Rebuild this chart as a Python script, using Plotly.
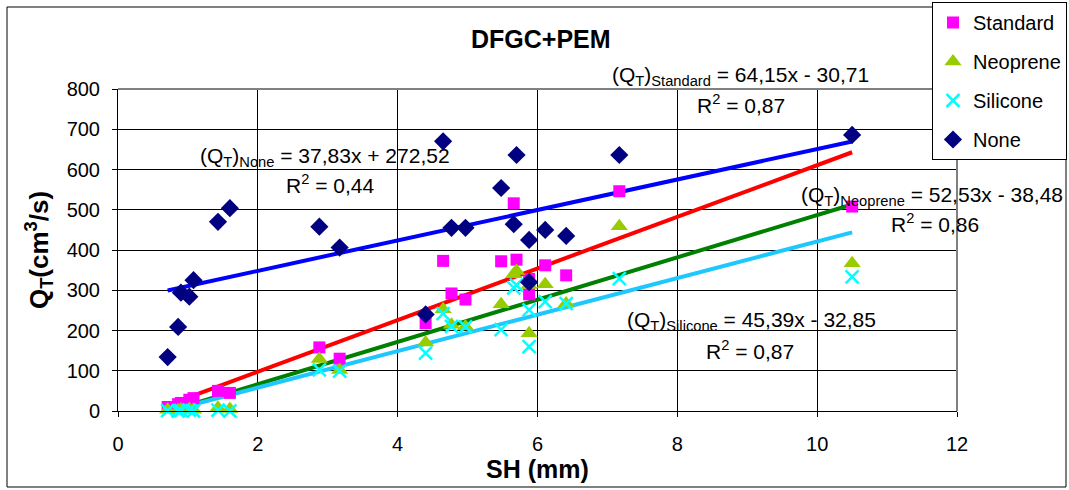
import plotly.graph_objects as go
import numpy as np

# ---- data ----
sh_mm = [0.71, 0.86, 0.90, 1.02, 1.08, 1.43, 1.60, 2.88, 3.17, 4.40, 4.65,
         4.77, 4.97, 5.48, 5.66, 5.70, 5.88, 5.88, 6.11, 6.41, 7.17, 10.50]
q_standard = [10, 17, 20, 28, 32, 50, 45, 158, 130, 218, 373,
              292, 277, 372, 516, 376, 328, 290, 362, 337, 546, 508]
q_neoprene = [3, 2, 4, 5, 3, 8, 5, 129, 102, 170, 253,
              214, 210, 265, 340, 348, 313, 193, 315, 267, 459, 367]
q_silicone = [1, 0, 1, 2, 0, 2, 0, 102, 99, 144, 242,
              210, 209, 202, 306, 313, 251, 160, 272, 267, 329, 333]
q_none = [134, 209, 294, 284, 325, 470, 504, 458, 406, 240, 670,
          455, 455, 554, 464, 636, 425, 320, 450, 435, 636, 686]

series_names = ["Standard", "Neoprene", "Silicone", "None"]
fit_slope = [64.15, 52.53, 45.39, 37.83]
fit_intercept = [-30.71, -38.48, -32.85, 272.52]
fit_r2 = ["0,87", "0,86", "0,87", "0,44"]
eq_text = ["64,15x - 30,71", "52,53x - 38,48", "45,39x - 32,85", "37,83x + 272,52"]

x_ticks = [0, 2, 4, 6, 8, 10, 12]
y_ticks = [0, 100, 200, 300, 400, 500, 600, 700, 800]

# ---- styles ----
FONT = "Liberation Sans, Arial, sans-serif"
marker_styles = {
    "Standard": dict(symbol="square", size=12, color="#FF00FF"),
    "Neoprene": dict(symbol="triangle-up", size=15, color="#99CC00"),
    "Silicone": dict(symbol="x-thin", size=13, color="#00FFFF",
                     line=dict(color="#00FFFF", width=2.5)),
    "None": dict(symbol="diamond", size=14, color="#000080"),
}
line_colors = {"Standard": "#FF0000", "Neoprene": "#008000",
               "Silicone": "#1EC8FF", "None": "#0000FF"}
ys = {"Standard": q_standard, "Neoprene": q_neoprene,
      "Silicone": q_silicone, "None": q_none}

fig = go.Figure()

# trend lines
xs_arr = np.array(sh_mm)
xline = np.array([xs_arr.min(), xs_arr.max()])
for name, m, b in zip(series_names, fit_slope, fit_intercept):
    fig.add_trace(go.Scatter(x=xline, y=m * xline + b, mode="lines",
                             line=dict(color=line_colors[name], width=4),
                             showlegend=False, hoverinfo="skip"))

# data points
for name in series_names:
    fig.add_trace(go.Scatter(x=sh_mm, y=ys[name], mode="markers", name=name,
                             marker=marker_styles[name], cliponaxis=False,
                             legendgroup=name))

# ---- layout geometry (pixels) ----
W, H = 1069, 490
L, R, T, B = 118, 112, 89, 79
pw, ph = W - L - R, H - T - B


def px(x):
    return (x - L) / pw


def py(y):
    return (H - B - y) / ph


annots = []
eq_pos = {"Standard": ((740, 76), (741, 104)),
          "Neoprene": ((932, 196), (935, 223)),
          "Silicone": ((751, 321), (750, 350)),
          "None": ((325, 157), (330, 184))}
for name, eq, r2 in zip(series_names, eq_text, fit_r2):
    (x1, y1), (x2, y2) = eq_pos[name]
    annots.append(dict(x=px(x1), y=py(y1), xref="paper", yref="paper",
                       text=f"(Q<sub>T</sub>)<sub>{name}</sub> = {eq}",
                       showarrow=False, xanchor="center", yanchor="middle",
                       font=dict(family=FONT, size=21, color="black")))
    annots.append(dict(x=px(x2), y=py(y2), xref="paper", yref="paper",
                       text=f"R<sup>2</sup> = {r2}",
                       showarrow=False, xanchor="center", yanchor="middle",
                       font=dict(family=FONT, size=21, color="black")))

annots.append(dict(x=px(541), y=py(39), xref="paper", yref="paper",
                   text="<b>DFGC+PEM</b>", showarrow=False,
                   xanchor="center", yanchor="middle",
                   font=dict(family=FONT, size=25, color="black")))

shapes = [
    # outer chart border
    dict(type="rect", xref="paper", yref="paper",
         x0=px(7), x1=px(1066), y0=py(487), y1=py(7),
         line=dict(color="black", width=1), layer="below"),
    # plot area top & right border
    dict(type="line", xref="paper", yref="paper", x0=0, x1=1, y0=1, y1=1,
         line=dict(color="#808080", width=2)),
    dict(type="line", xref="paper", yref="paper", x0=1, x1=1, y0=0, y1=1,
         line=dict(color="#808080", width=2)),
]

fig.update_layout(
    width=W, height=H,
    margin=dict(l=L, r=R, t=T, b=B, autoexpand=False),
    paper_bgcolor="white", plot_bgcolor="white",
    font=dict(family=FONT, size=20, color="black"),
    showlegend=True,
    legend=dict(x=px(932), y=py(2), xanchor="left", yanchor="top",
                bgcolor="white", bordercolor="black", borderwidth=1,
                font=dict(family=FONT, size=20, color="black"),
                tracegroupgap=10, itemsizing="trace"),
    annotations=annots,
    shapes=shapes,
    xaxis=dict(range=[0, 12], tickvals=x_ticks, showgrid=True,
               gridcolor="black", gridwidth=1, showline=True,
               linecolor="black", linewidth=1, ticks="outside", ticklen=5,
               tickcolor="black", zeroline=False, ticklabelstandoff=10,
               tickfont=dict(size=20),
               title=dict(text="<b>SH (mm)</b>", standoff=6,
                          font=dict(size=25))),
    yaxis=dict(range=[0, 800], tickvals=y_ticks, showgrid=True,
               gridcolor="black", gridwidth=1, showline=True,
               linecolor="black", linewidth=1, ticks="outside", ticklen=5,
               tickcolor="black", zeroline=False, ticklabelstandoff=8,
               tickfont=dict(size=20),
               title=dict(text="<b>Q<sub>T</sub>(cm<sup>3</sup>/s)</b>",
                          standoff=10, font=dict(size=26))),
)

fig.write_html("out.html")
